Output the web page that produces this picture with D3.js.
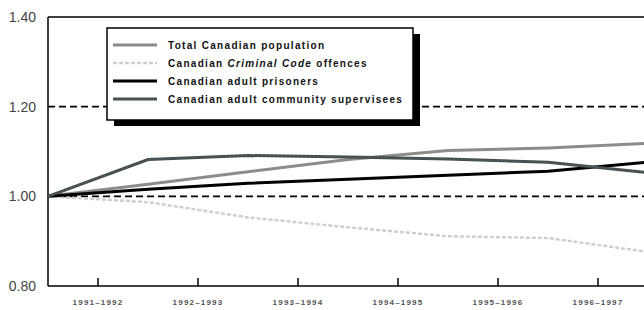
<!DOCTYPE html>
<html>
<head>
<meta charset="utf-8">
<script src="https://cdn.jsdelivr.net/npm/d3@7"></script>
<style>
  body { margin: 0; background: #fff; }
  svg { display: block; }
</style>
</head>
<body>
<div id="chart"></div>
<script>
// fiscal years: each point is the start of a year, labels sit between points
var years = [1991, 1992, 1993, 1994, 1995, 1996, 1997];
var periodLabels = ["1991–1992", "1992–1993", "1993–1994", "1994–1995", "1995–1996", "1996–1997"];
var yTicks = [0.80, 1.00, 1.20, 1.40];
var gridValues = [1.00, 1.20];

var totalPopulation = [1.00, 1.027, 1.055, 1.082, 1.102, 1.108, 1.118];
var criminalCode   = [1.00, 0.987, 0.953, 0.931, 0.911, 0.907, 0.876];
var adultPrisoners = [1.00, 1.016, 1.029, 1.038, 1.047, 1.056, 1.076];
var communitySup   = [1.00, 1.082, 1.091, 1.088, 1.083, 1.076, 1.053];

var width = 644,
    height = 310;

var svg = d3.select("#chart").append("svg")
    .attr("width", width)
    .attr("height", height);

var plotLeft = 48, plotTop = 17, plotBottom = 286;

var x = d3.scaleLinear()
    .domain([1991, 1997])
    .range([plotLeft, plotLeft + 600]);

var xBand = d3.scaleBand()
    .domain(periodLabels)
    .range([plotLeft, plotLeft + 600]);

var y = d3.scaleLinear()
    .domain([0.80, 1.40])
    .range([plotBottom, plotTop]);

// dashed reference lines
svg.selectAll(".grid")
    .data(gridValues)
    .enter().append("line")
      .attr("x1", plotLeft)
      .attr("x2", width)
      .attr("y1", function(d) { return y(d); })
      .attr("y2", function(d) { return y(d); })
      .attr("stroke", "#000")
      .attr("stroke-width", 1.6)
      .attr("stroke-dasharray", "7,4");

// frame: top line, bottom axis, left axis
svg.append("line")
    .attr("x1", plotLeft).attr("x2", width)
    .attr("y1", y(1.40)).attr("y2", y(1.40))
    .attr("stroke", "#000").attr("stroke-width", 1.5);

var xAxis = svg.append("g")
    .attr("transform", "translate(0," + plotBottom + ")")
    .call(d3.axisBottom(xBand).tickSizeInner(-8).tickSizeOuter(0).tickPadding(13));
xAxis.select(".domain").remove();
xAxis.append("line")
    .attr("x1", plotLeft).attr("x2", width)
    .attr("stroke", "#000").attr("stroke-width", 1.5);
xAxis.selectAll(".tick line").attr("stroke", "#000").attr("stroke-width", 1.5);
xAxis.selectAll(".tick text")
    .attr("fill", "#555")
    .style("font-family", "'Liberation Sans', Arial, sans-serif")
    .style("font-size", "8px")
    .style("font-weight", "bold")
    .style("letter-spacing", "1.2px");

var yAxis = svg.append("g")
    .attr("transform", "translate(" + plotLeft + ",0)")
    .call(d3.axisLeft(y).tickValues(yTicks).tickFormat(d3.format(".2f")).tickSize(0).tickPadding(12));
yAxis.select(".domain").remove();
yAxis.append("line")
    .attr("y1", plotTop).attr("y2", plotBottom)
    .attr("stroke", "#000").attr("stroke-width", 1.5);
yAxis.selectAll(".tick text")
    .attr("fill", "#444")
    .style("font-family", "'Liberation Sans', Arial, sans-serif")
    .style("font-size", "14px");

var series = [
  { name: "Total Canadian population", values: totalPopulation, color: "#8c8c8c", width: 3, dash: null },
  { name: "Canadian Criminal Code offences", values: criminalCode, color: "#cfcfcf", width: 2.5, dash: "4,2" },
  { name: "Canadian adult prisoners", values: adultPrisoners, color: "#000", width: 3, dash: null },
  { name: "Canadian adult community supervisees", values: communitySup, color: "#4a4a4a", width: 3, dash: null, dots: "#2f8f8f" }
];

var line = d3.line()
    .x(function(d, i) { return x(years[i]); })
    .y(function(d) { return y(d); });

var lines = svg.append("g");
series.forEach(function(s) {
  lines.append("path")
      .attr("d", line(s.values))
      .attr("fill", "none")
      .attr("stroke", s.color)
      .attr("stroke-width", s.width)
      .attr("stroke-dasharray", s.dash);
  if (s.dots) {
    lines.append("path")
        .attr("d", line(s.values))
        .attr("fill", "none")
        .attr("stroke", s.dots)
        .attr("stroke-width", 1)
        .attr("stroke-dasharray", "1,3");
  }
});

// legend with drop shadow
var legend = svg.append("g").attr("transform", "translate(107,28)");
legend.append("rect")
    .attr("x", 7).attr("y", 6)
    .attr("width", 306).attr("height", 92)
    .attr("fill", "#000");
legend.append("rect")
    .attr("width", 306).attr("height", 92)
    .attr("fill", "#fff")
    .attr("stroke", "#000").attr("stroke-width", 1.5);

var item = legend.selectAll(".item")
    .data(series)
    .enter().append("g")
      .attr("transform", function(d, i) { return "translate(0," + (17 + i * 18) + ")"; });

item.append("line")
    .attr("x1", 6).attr("x2", 50)
    .attr("stroke", function(d) { return d.color; })
    .attr("stroke-width", function(d) { return d.width; })
    .attr("stroke-dasharray", function(d) { return d.dash; });
item.filter(function(d) { return d.dots; }).append("line")
    .attr("x1", 6).attr("x2", 50)
    .attr("stroke", function(d) { return d.dots; })
    .attr("stroke-width", 1)
    .attr("stroke-dasharray", "1,3");

var txt = item.append("text")
    .attr("x", 61)
    .attr("dy", "0.35em")
    .attr("fill", "#111")
    .style("font-family", "'Liberation Sans Narrow', 'Liberation Sans', sans-serif")
    .style("font-size", "10px")
    .style("font-weight", "bold")
    .style("letter-spacing", "1.3px");

txt.each(function(d) {
  var t = d3.select(this);
  if (d.name.indexOf("Criminal Code") >= 0) {
    t.append("tspan").text("Canadian ");
    t.append("tspan").style("font-style", "italic").text("Criminal Code");
    t.append("tspan").text(" offences");
  } else {
    t.text(d.name);
  }
});
</script>
</body>
</html>
